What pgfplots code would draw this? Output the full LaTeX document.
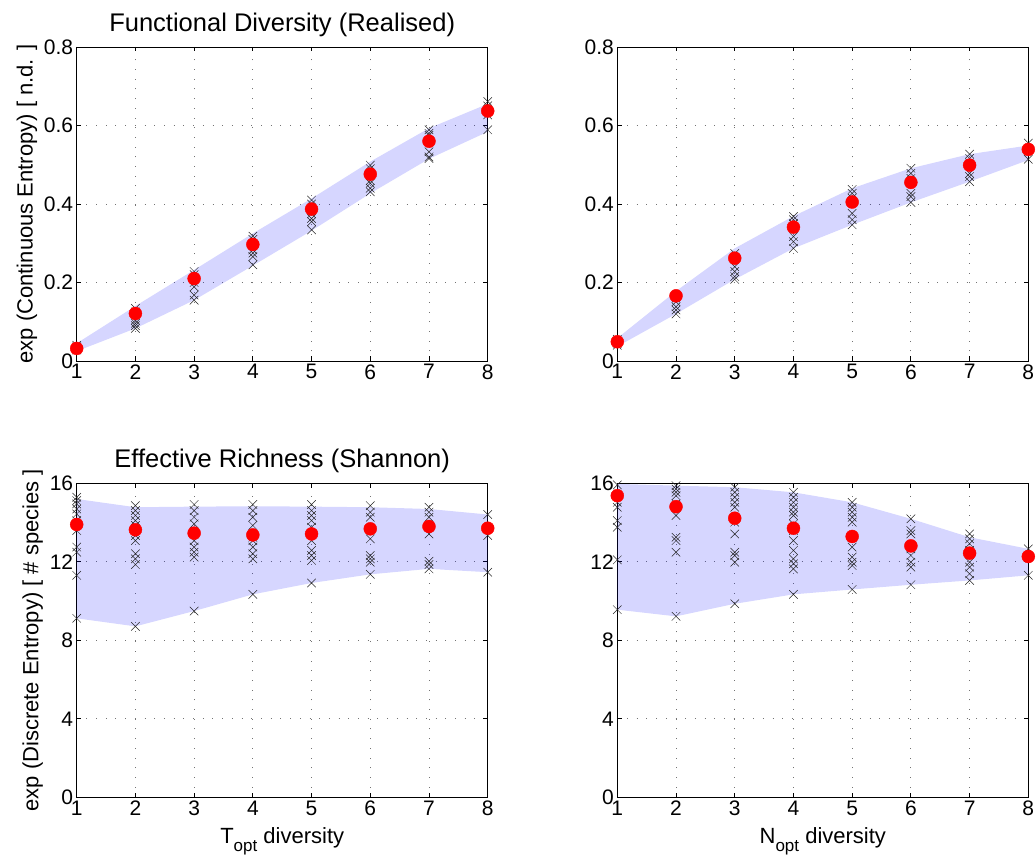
\documentclass[border=0pt]{standalone}
\usepackage{pgfplots}
\pgfplotsset{compat=1.18}
\usepackage{fontspec}
\setmainfont{Liberation Sans}

\newcommand{\tickfont}{\fontsize{21}{24}\selectfont}
\newcommand{\labfont}{\fontsize{22}{26}\selectfont}
\newcommand{\subfont}{\fontsize{17}{20}\selectfont}

\pgfplotsset{
  panel/.style={
    scale only axis, width=411pt, height=314pt,
    anchor=south west,
    xmin=1, xmax=8, xtick={1,...,8},
    grid=major,
    grid style={black!55, line width=0.9pt, dash pattern=on 0.9pt off 8.8pt},
    tick align=inside, major tick length=4.5pt,
    tick style={black, line width=0.8pt},
    axis line style={line width=0.9pt},
    ticklabel style={font=\tickfont},
    label style={font=\labfont},
    xlabel style={yshift=-5pt},
    title style={font=\fontsize{25.5}{30}\selectfont, yshift=1pt},
    /pgf/number format/assume math mode=true,
    clip=false,
  },
  band/.style={fill=blue, fill opacity=0.16, draw=none},
  runs/.style={only marks, mark=x, mark size=6pt, black!85, mark options={line width=0.5pt}},
  means/.style={only marks, mark=*, mark size=6.5pt, red, mark options={draw=red, fill=red}},
}

\begin{document}
\begin{tikzpicture}

% top left: functional diversity vs T_opt
\begin{axis}[panel, at={(0pt,436.3pt)},
  ymin=0, ymax=0.8, ytick={0,0.2,0.4,0.6,0.8},
  yticklabel style={/pgf/number format/fixed, /pgf/number format/precision=1},
  title={Functional Diversity (Realised)},
  ylabel={exp (Continuous Entropy) [ n.d. ]}]
\addplot[band] coordinates {
  (1,0.045) (2,0.140) (3,0.232) (4,0.325) (5,0.414) (6,0.508) (7,0.593) (8,0.655)
  (8,0.584) (7,0.515) (6,0.427) (5,0.332) (4,0.243) (3,0.155) (2,0.083) (1,0.025)} -- cycle;
\addplot[runs] coordinates {
  (1,0.028) (1,0.032) (1,0.036) (1,0.040)
  (2,0.134) (2,0.125) (2,0.104) (2,0.096) (2,0.090) (2,0.083)
  (3,0.228) (3,0.220) (3,0.200) (3,0.189) (3,0.168) (3,0.155)
  (4,0.318) (4,0.310) (4,0.283) (4,0.275) (4,0.266) (4,0.245)
  (5,0.410) (5,0.400) (5,0.375) (5,0.363) (5,0.355) (5,0.334)
  (6,0.499) (6,0.490) (6,0.460) (6,0.453) (6,0.440) (6,0.431)
  (7,0.589) (7,0.580) (7,0.575) (7,0.533) (7,0.520) (7,0.516)
  (8,0.661) (8,0.650) (8,0.627) (8,0.589)};
\addplot[means] coordinates {
  (1,0.032) (2,0.121) (3,0.210) (4,0.297) (5,0.387) (6,0.476) (7,0.560) (8,0.637)};
\end{axis}

% top right: functional diversity vs N_opt
\begin{axis}[panel, at={(540.6pt,436.3pt)},
  ymin=0, ymax=0.8, ytick={0,0.2,0.4,0.6,0.8},
  yticklabel style={/pgf/number format/fixed, /pgf/number format/precision=1}]
\addplot[band] coordinates {
  (1,0.058) (2,0.178) (3,0.287) (4,0.369) (5,0.440) (6,0.491) (7,0.527) (8,0.549)
  (8,0.512) (7,0.457) (6,0.404) (5,0.347) (4,0.287) (3,0.208) (2,0.120) (1,0.037)} -- cycle;
\addplot[runs] coordinates {
  (1,0.040) (1,0.045) (1,0.050) (1,0.055)
  (2,0.160) (2,0.151) (2,0.138) (2,0.130) (2,0.120)
  (3,0.274) (3,0.260) (3,0.240) (3,0.228) (3,0.215) (3,0.208)
  (4,0.368) (4,0.360) (4,0.350) (4,0.317) (4,0.304) (4,0.287)
  (5,0.437) (5,0.427) (5,0.415) (5,0.376) (5,0.360) (5,0.347)
  (6,0.491) (6,0.478) (6,0.465) (6,0.427) (6,0.419) (6,0.404)
  (7,0.527) (7,0.516) (7,0.505) (7,0.478) (7,0.470) (7,0.457)
  (8,0.555) (8,0.540) (8,0.514)};
\addplot[means] coordinates {
  (1,0.049) (2,0.166) (3,0.262) (4,0.341) (5,0.405) (6,0.455) (7,0.499) (8,0.539)};
\end{axis}

% bottom left: effective richness vs T_opt
\begin{axis}[panel, at={(0pt,0pt)},
  ymin=0, ymax=16, ytick={0,4,8,12,16},
  title={Effective Richness (Shannon)},
  ylabel={exp (Discrete Entropy) [ \# species ]},
  xlabel={T\raisebox{-0.7ex}{\subfont opt} diversity}]
\addplot[band] coordinates {
  (1,15.20) (2,14.78) (3,14.81) (4,14.83) (5,14.81) (6,14.78) (7,14.69) (8,14.41)
  (8,11.47) (7,11.64) (6,11.36) (5,10.92) (4,10.34) (3,9.49) (2,8.71) (1,9.12)} -- cycle;
\addplot[runs] coordinates {
  (1,15.29) (1,15.12) (1,14.95) (1,14.69) (1,14.44) (1,14.10) (1,13.59) (1,12.75) (1,12.49) (1,11.31) (1,9.12)
  (2,14.86) (2,14.61) (2,14.36) (2,14.10) (2,13.85) (2,13.34) (2,13.08) (2,12.41) (2,12.15) (2,11.86) (2,8.71)
  (3,14.92) (3,14.61) (3,14.27) (3,13.93) (3,13.42) (3,13.08) (3,12.75) (3,12.49) (3,12.24) (3,9.49)
  (4,14.92) (4,14.61) (4,14.27) (4,13.85) (4,13.25) (4,13.08) (4,12.75) (4,12.41) (4,12.15) (4,10.34)
  (5,14.92) (5,14.61) (5,14.36) (5,14.10) (5,13.76) (5,13.08) (5,12.58) (5,12.32) (5,12.07) (5,10.92)
  (6,14.86) (6,14.53) (6,14.27) (6,13.17) (6,12.32) (6,12.15) (6,11.98) (6,11.36)
  (7,14.78) (7,14.53) (7,14.27) (7,13.76) (7,13.42) (7,12.03) (7,11.86) (7,11.64)
  (8,14.41) (8,13.34) (8,11.47)};
\addplot[means] coordinates {
  (1,13.90) (2,13.63) (3,13.46) (4,13.37) (5,13.42) (6,13.68) (7,13.80) (8,13.71)};
\end{axis}

% bottom right: effective richness vs N_opt
\begin{axis}[panel, at={(540.6pt,0pt)},
  ymin=0, ymax=16, ytick={0,4,8,12,16},
  xlabel={N\raisebox{-0.7ex}{\subfont opt} diversity}]
\addplot[band] coordinates {
  (1,15.97) (2,15.88) (3,15.80) (4,15.54) (5,15.03) (6,14.19) (7,13.25) (8,12.66)
  (8,11.31) (7,11.05) (6,10.83) (5,10.59) (4,10.34) (3,9.86) (2,9.22) (1,9.56)} -- cycle;
\addplot[runs] coordinates {
  (1,15.92) (1,15.03) (1,14.78) (1,14.10) (1,13.76) (1,12.10) (1,9.56)
  (2,15.88) (2,15.71) (2,15.54) (2,15.37) (2,14.95) (2,14.36) (2,13.25) (2,13.08) (2,12.49) (2,9.22)
  (3,15.80) (3,15.54) (3,15.29) (3,15.03) (3,14.78) (3,14.02) (3,13.42) (3,12.49) (3,12.32) (3,11.98) (3,9.86)
  (4,15.54) (4,15.29) (4,15.03) (4,14.78) (4,14.53) (4,14.36) (4,13.93) (4,13.59) (4,13.08) (4,12.58) (4,12.15) (4,11.90) (4,11.64) (4,10.34)
  (5,15.03) (5,14.78) (5,14.53) (5,14.27) (5,14.02) (5,13.25) (5,12.75) (5,12.24) (5,11.98) (5,11.81) (5,10.59)
  (6,14.19) (6,13.59) (6,13.42) (6,12.66) (6,12.32) (6,11.98) (6,11.73) (6,10.83)
  (7,13.42) (7,13.17) (7,12.92) (7,12.58) (7,11.98) (7,11.73) (7,11.39) (7,11.05)
  (8,12.66) (8,11.31)};
\addplot[means] coordinates {
  (1,15.37) (2,14.81) (3,14.22) (4,13.71) (5,13.29) (6,12.81) (7,12.44) (8,12.27)};
\end{axis}

\pgfresetboundingbox
\path[use as bounding box] (-76.7pt,-60.7pt) rectangle (959.3pt,797.3pt);
\end{tikzpicture}
\end{document}
